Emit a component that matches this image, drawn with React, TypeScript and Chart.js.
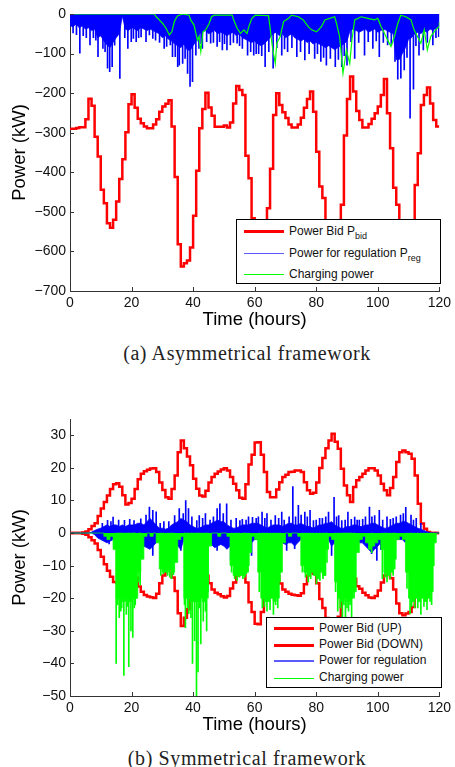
import React, { useEffect, useRef } from 'react';
import { Chart, registerables } from 'chart.js';

Chart.register(...registerables);

// ---------- shared ----------
const xTicks = [0, 20, 40, 60, 80, 100, 120];
const topYTicks = [-700, -600, -500, -400, -300, -200, -100, 0];
const botYTicks = [-50, -40, -30, -20, -10, 0, 10, 20, 30];

// ---------- (a) Asymmetrical framework ----------
// hourly power bid (value holds from hour i to i+1)
const topBid = [
  -290, -290, -288, -286, -286, -266, -214, -232, -310, -360,
  -444, -478, -529, -540, -520, -474, -417, -367, -299, -228,
  -203, -237, -265, -276, -284, -289, -289, -279, -266, -247,
  -234, -227, -218, -284, -412, -582, -638, -630, -623, -590,
  -510, -396, -289, -240, -199, -236, -257, -285, -285, -285,
  -282, -287, -274, -226, -182, -192, -205, -358, -415, -516,
  -570, -610, -620, -590, -491, -391, -255, -200, -230, -248,
  -263, -279, -287, -287, -279, -262, -237, -215, -196, -247,
  -348, -436, -465, -540, -590, -620, -600, -560, -482, -307,
  -215, -158, -196, -245, -268, -287, -287, -278, -265, -251,
  -234, -205, -164, -251, -339, -439, -482, -540, -590, -610,
  -580, -530, -432, -352, -230, -205, -186, -226, -268, -284,
];
// regulation power: dense body (hourly) + individual spikes
const topRegBase = [
  -30, -32, -25, -35, -30, -38, -35, -42, -38,
  -60, -55, -68, -78, -85, -72, -60, -50,
  -5,
  -38, -42, -34, -38, -42, -34, -38, -42, -38, -42,
  -46, -50, -60, -55, -64, -68, -76,
  -80, -85, -76, -90, -92, -80, -68,
  -50, -46, -42, -50, -46, -42, -50, -46, -50,
  -55, -50, -46, -55, -50, -60, -64, -68, -72, -68, -76,
  -80, -76, -68,
  -60, -50, -46, -55, -50, -60, -55, -50, -60, -64,
  -68, -64, -72, -68, -76, -72, -76, -80, -85,
  -80, -85, -90, -85, -80, -76, -68,
  -42, -38, -42, -46, -42, -38, -46, -42, -38, -46, -42, -38, -42, -46, -50,
  -115, -115, -100, -85,
  -64, -60, -50, -46, -50, -42, -46, -38, -42, -34, -38,
];
const topRegSpikeT = [
  3.2, 4.3, 6.5, 7.6, 9.1, 10.7, 12.2, 12.9, 13.7, 14.5,
  15.3, 16.2, 18.8, 19.9, 21.5, 23.1, 24.7, 25.8, 26.9, 30.6,
  32.6, 33.3, 34.2, 35.0, 35.5, 36.6, 38.2, 39.0, 39.8, 40.9,
  41.9, 43.0, 45.7, 47.8, 49.5, 51.0, 52.1, 54.3, 56.0, 57.7,
  59.7, 61.3, 63.4, 66.0, 68.8, 70.7, 73.7, 76.3, 79.5, 81.5,
  83.3, 86.2, 88.3, 90.0, 92.5, 95.7, 98.4, 100.5, 103.2, 106.5,
  107.5, 108.6, 110.5, 111.6, 113.4, 114.8, 117.9, 119.8,
  1.0, 2.1, 5.3, 8.4, 11.4, 17.8, 20.6, 22.3, 27.8, 29.1,
  31.4, 37.4, 42.6, 44.4, 46.6, 48.6, 50.2, 53.1, 55.1, 58.7,
  60.5, 62.3, 64.6, 67.2, 69.7, 72.1, 74.9, 77.7, 80.4, 82.4,
  84.6, 87.2, 89.1, 91.3, 93.8, 96.9, 99.5, 101.8, 104.4, 105.6,
  109.5, 112.4, 116.1, 118.9,
];
const topRegSpikeV = [
  -99, -55, -78, -60, -108, -87, -137, -146, -133, -79,
  -54, -163, -87, -70, -70, -58, -70, -53, -62, -87,
  -78, -108, -108, -133, -129, -125, -150, -183, -171, -104,
  -87, -87, -74, -82, -91, -91, -78, -74, -87, -104,
  -104, -100, -133, -137, -104, -95, -108, -116, -112, -120,
  -129, -133, -133, -129, -112, -104, -87, -108, -78, -165,
  -162, -141, -263, -190, -104, -91, -78, -57,
  -48, -52, -60, -66, -95, -60, -62, -60, -66, -72,
  -82, -112, -75, -70, -72, -70, -75, -72, -80, -95,
  -100, -105, -95, -85, -88, -85, -95, -100, -100, -110,
  -112, -115, -105, -70, -72, -70, -68, -72, -80, -120,
  -110, -80, -72, -60,
];
const topChargeT = [
  0, 27.4, 28.0, 29.0, 30.1, 31.2, 32.3, 33.1, 33.9, 34.9,
  36.6, 38.7, 39.2, 40.3, 41.4, 41.9, 42.5, 43.2, 44.1, 45.2,
  46.0, 46.8, 52.7, 53.2, 54.3, 55.4, 56.5, 57.5, 58.1, 59.1,
  60.2, 64.5, 65.1, 65.6, 66.1, 66.7, 67.2, 68.3, 69.4, 71.0,
  72.0, 74.2, 75.8, 77.4, 78.5, 80.1, 81.7, 82.8, 86.0, 86.6,
  87.6, 88.7, 89.8, 90.9, 91.6, 92.5, 94.6, 96.8, 98.9, 100.0,
  101.1, 102.2, 103.2, 104.3, 105.4, 106.5, 107.5, 109.1, 110.8, 111.8,
  112.9, 114.0, 115.1, 116.1, 117.2, 118.8, 119.9, 120,
];
const topChargeV = [
  0, 0, -7, -15, -24, -36, -53, -45, -19, -5,
  0, -3, -15, -28, -66, -57, -95, -45, -40, -24,
  -7, -3, -3, -15, -36, -49, -40, -49, -32, -11,
  -3, -4, -40, -74, -99, -125, -74, -57, -19, -11,
  -3, -7, -15, -32, -40, -45, -32, -15, -7, -24,
  -57, -150, -91, -125, -66, -15, -7, -11, -15, -11,
  -32, -49, -66, -82, -57, -24, -3, -7, -15, -40,
  -57, -74, -40, -91, -57, -40, -32, -20,
];

// ---------- (b) Symmetrical framework ----------
const botBidUp = [
  0, 0, 0, 0, 0.2, 0.5, 1.2, 2.2, 3, 5.2,
  7.5, 9.5, 11.5, 13.5, 15, 15.3, 14.2, 11.6, 8.8, 9.2,
  10.5, 13.5, 16.5, 18.2, 19, 19.4, 19.8, 19.9, 18.7, 15.5,
  13.2, 11, 10.5, 13.5, 17.7, 24.8, 28.4, 26, 23.5, 20.8,
  16.7, 13.6, 11.5, 11.2, 13, 15.5, 17.2, 18.2, 18.9, 19.5,
  19.9, 19.2, 17.2, 15.1, 13.1, 10.8, 10.5, 15, 21, 24,
  27.8, 27.9, 24, 18.7, 12.6, 11, 11, 13.4, 15.6, 17.2,
  17.9, 18.7, 18.8, 19.2, 19.2, 18.7, 15.6, 13.1, 12.1, 12.4,
  15.5, 20, 23, 26, 28.4, 30.5, 28, 25.9, 19.7, 14.6,
  11.6, 9.5, 14.1, 16.2, 17.2, 18.2, 19.2, 19.9, 19.9, 19.2,
  17.7, 15.1, 13.1, 11.6, 13.8, 17.2, 21.8, 24.8, 25.3, 24.8,
  24.3, 22.8, 17.7, 9, 2.9, 1.3, 0.3, 0, 0, 0,
];
const botBidDown = [
  0, 0, 0, 0, -0.2, -0.5, -1.3, -2.2, -3.2, -5.2,
  -7.3, -9.6, -11.6, -13.4, -15, -15.2, -14, -11.4, -9, -9.4,
  -10.6, -13.6, -16.4, -18, -19, -19.5, -19.7, -19.9, -18.6, -15.4,
  -13, -10.8, -10.4, -13.6, -17.8, -24.6, -28.5, -26, -23.4, -20.6,
  -16.8, -13.5, -11.6, -11.2, -13.1, -15.4, -17.3, -18.3, -18.8, -19.4,
  -19.8, -19.3, -17, -15.2, -13, -10.8, -10.4, -15.2, -21.2, -24.2,
  -27.8, -28, -24.2, -18.6, -12.8, -11, -11.1, -13.2, -15.5, -17.3,
  -18, -18.6, -18.9, -19.1, -19.2, -18.5, -15.7, -13, -12, -12.5,
  -15.4, -20.2, -23, -26.1, -28.3, -30.4, -28, -25.7, -19.6, -14.5,
  -11.7, -9.6, -14, -16.3, -17.1, -18.3, -19.1, -19.8, -19.9, -19.3,
  -17.6, -15.2, -13, -11.5, -13.9, -17.3, -21.6, -24.6, -25.2, -24.7,
  -24.2, -22.7, -17.6, -9.2, -3, -1.3, -0.3, 0, 0, 0,
];
const botRegPos = [
  0, 0, 0, 0, 0, 0, 0, 0.3, 0.8, 1.2,
  1.5, 2, 2.5, 2, 2.5, 2.5, 2, 2.5, 2, 2.5,
  2.5, 2.5, 3, 3, 2.5, 3.5, 4.5, 3.5, 2.5, 1.5,
  1.5, 1.2, 1.5, 2.5, 3, 3.5, 4.5, 4, 3.5, 2.5,
  2, 1.5, 1.5, 2, 2.5, 2.5, 3, 3.5, 4, 3.5,
  3.5, 2.5, 2, 1.5, 1.5, 2, 2.5, 2.5, 2.5, 3,
  3, 3, 2.5, 2, 1.5, 2, 2.5, 2.5, 2.5, 2,
  2.5, 3, 3, 2.5, 2.5, 3, 2.5, 2, 2, 1.5,
  2, 2.5, 2.5, 3, 3, 3.5, 2.5, 2, 1.5, 1.5,
  2, 2, 2.5, 2.5, 2, 2, 2.5, 2.5, 3, 3,
  2.5, 2, 1.5, 1.5, 2, 2.5, 3, 3, 3.5, 3.5,
  3, 2.5, 2, 1.5, 1.2, 0.8, 0.4, 0.2, 0, 0,
  0,
];
const botRegNeg = [
  0, 0, 0, 0, 0, 0, 0, 0, -0.5, -1.5,
  -2, -2.5, -3, -2.5, -2, -2, -2, -2, -2, -2,
  -2, -2, -2, -3, -4, -4.5, -5, -4, -3, -2,
  -2, -2, -2, -2, -2, -4, -5, -2, -2, -2,
  -2, -2, -2, -2, -2, -3, -3.5, -4.5, -4, -3.5,
  -4, -5, -4, -2, -2, -2, -2, -2, -2, -3,
  -2, -2, -2, -2, -2, -2, -2, -2, -2, -3,
  -3.5, -3, -3, -4, -3, -2, -2, -2, -2, -2,
  -2, -2, -2, -2, -2, -4, -3, -2, -2, -2,
  -2, -2, -2, -2, -3, -3, -4, -5, -6, -5,
  -4, -3, -2, -2, -2, -2, -2, -2, -2, -3,
  -2, -2, -2, -2, -2, -2, -2, -1, 0, 0,
  0,
];
const botRegSpikeT = [
  12.2, 14.0, 17.7, 23.0, 24.7, 25.8, 26.9, 28.0, 30.5, 34.0,
  35.5, 37.6, 38.5, 42.0, 44.0, 45.5, 47.8, 48.7, 50.9, 54.0,
  56.0, 58.0, 60.5, 62.4, 64.0, 66.7, 68.8, 72.4, 74.2, 76.3,
  78.0, 80.0, 82.0, 84.0, 85.8, 87.3, 90.3, 92.5, 94.0, 96.0,
  97.3, 99.0, 100.5, 103.0, 105.0, 106.0, 109.1, 110.8, 112.5, 114.0,
  10.5, 13.3, 15.8, 19.4, 20.8, 29.3, 32.1, 36.8, 39.6, 41.2,
  43.1, 46.6, 49.8, 52.3, 55.2, 57.2, 59.3, 61.2, 63.3, 65.3,
  67.8, 69.6, 71.2, 73.3, 75.1, 77.1, 79.1, 81.1, 83.1, 86.6,
  88.3, 89.4, 91.4, 93.3, 95.1, 98.1, 101.6, 104.1, 107.4, 108.3,
  111.6,
  12.7, 21.0, 22.7, 26.9, 36.0, 38.5, 47.8, 52.2, 59.0, 70.4,
  73.0, 85.0, 98.0, 99.7, 101.0,
];
const botRegSpikeV = [
  3.9, 4.9, 3.9, 4.4, 5.5, 8, 7, 6.5, 3.5, 5.4,
  7.5, 10, 7.5, 5.4, 6, 4, 7.5, 9, 9, 4.5,
  4.2, 5, 4.5, 6.4, 6, 5.4, 6.4, 14.3, 8.5, 6.4,
  7, 4, 4.5, 6.4, 11, 5.4, 6.4, 4.9, 4, 5,
  8, 5.4, 7, 5, 4.5, 5, 7.9, 5.5, 4.5, 3,
  3, 3.5, 4, 4.2, 3.8, 3, 3.5, 6, 5, 3.8,
  4.5, 5, 6, 4, 3.8, 4, 4.8, 5, 4.5, 4,
  4.5, 4, 5, 5, 5.5, 5, 3.8, 4.5, 5, 5,
  3.8, 4, 4.2, 4, 4.2, 5, 4, 4.2, 5.5, 6,
  4,
  -3.3, -6.3, -6.3, -6.9, -5.3, -6, -5.3, -8.4, -6.9, -5.3,
  -4.8, -6.9, -6.3, -8.4, -5,
];
const botChargeBase = [
  0, 0, 0, 0, 0, 0, 0, 0, 0, 0,
  0, -1, -2, -1, -5, -20, -20, -21, -20, -21,
  -20, -20, -12, -8, -1, 0, -1, 0, -3, -11,
  -12, -12, -11, -12, -9, -2, -1, -20, -20, -21,
  -21, -21, -20, -21, -18, -4, 0, 0, -1, 0,
  0, -1, -10, -13, -13, -13, -13, -12, -6, -1,
  -2, -12, -20, -21, -21, -20, -21, -20, -12, -3,
  0, -1, 0, 0, -1, -10, -12, -13, -12, -13,
  -14, -12, -13, -5, -1, -2, -15, -20, -21, -20,
  -21, -20, -18, -6, -2, -1, -3, -5, -4, -3,
  -2, -5, -12, -13, -12, -8, -2, -1, -2, -12,
  -20, -21, -20, -21, -20, -21, -20, -18, -3, 0,
  0,
];
const botChargeSpikeT = [
  15.0, 16.0, 16.5, 17.5, 18.3, 19.1, 19.8, 20.4, 21.2,
  31.7, 33.0,
  37.5, 38.6, 39.8, 40.5, 41.1, 41.6, 42.5, 43.3, 44.4,
  53.5, 55.0, 57.3,
  62.5, 64.0, 66.1, 67.5,
  77.4, 79.0, 81.2, 83.0,
  87.0, 88.5, 89.5, 90.5, 91.5,
  98.0, 101.5, 103.0, 105.0,
  110.5, 112.0, 114.0, 116.0, 117.5,
  15.5, 16.8, 18.8, 20.9, 22.4, 22.8,
  29.5, 30.3, 32.4, 33.6,
  37.2, 38.2, 39.3, 42.0, 44.0, 44.8,
  52.5, 54.3, 56.2, 56.8, 58.1,
  61.5, 63.2, 65.0, 66.8, 68.2,
  75.5, 76.5, 78.2, 80.1, 82.2, 83.5,
  86.3, 87.8, 89.0, 90.0, 91.0, 92.3,
  102.3, 104.0, 105.5,
  109.5, 111.0, 113.0, 115.0, 117.0, 118.2,
];
const botChargeSpikeV = [
  -40, -26, -24, -43.7, -25, -41, -30, -32, -22,
  -13, -14,
  -29, -24.7, -40, -33, -50, -42.6, -34, -27, -30,
  -14, -13.5, -12.5,
  -23, -24, -25, -23,
  -15, -12, -14.5, -13,
  -24, -27, -25.8, -24, -26,
  -6, -14, -15, -13,
  -24.8, -23, -25, -23.5, -22,
  -22, -23, -22.5, -23, -15, -16,
  -13, -12.5, -13.5, -12.8,
  -22, -23, -26, -23, -24, -20,
  -12, -14.5, -14, -13.5, -10,
  -18, -22.5, -23.5, -22, -15,
  -12, -13.5, -14, -15.5, -14, -9,
  -18, -23, -22, -23, -22, -20,
  -13.5, -14, -11,
  -17, -22.5, -23, -22.5, -21, -10,
];

// ---------- helpers ----------
const RED = '#ff0000';
const BLUE = '#0000ff';
const GREEN = '#00ff00';
const SANS = '"Liberation Sans", Arial, Helvetica, sans-serif';
const SERIF = '"Liberation Serif", "Times New Roman", serif';
const AXIS = '#333333';

const hourly = (vals: number[]) => vals.map((v, i) => ({ x: i, y: v }));
const stepped = (vals: number[]) =>
  vals.map((v, i) => ({ x: i, y: v })).concat([{ x: vals.length, y: vals[vals.length - 1] }]);
const pairs = (ts: number[], vs: number[]) => ts.map((t, i) => ({ x: t, y: vs[i] }));

const fmt = (v: number) => (v < 0 ? '\u2212' + Math.abs(v) : String(v));

const inwardTicks = {
  id: 'inwardTicks',
  afterDatasetsDraw(chart: any) {
    const { ctx, chartArea, scales } = chart;
    ctx.save();
    ctx.strokeStyle = AXIS;
    ctx.lineWidth = 1;
    scales.x.ticks.forEach((t: any) => {
      const px = Math.round(scales.x.getPixelForValue(t.value)) + 0.5;
      ctx.beginPath();
      ctx.moveTo(px, chartArea.bottom);
      ctx.lineTo(px, chartArea.bottom - 4);
      ctx.stroke();
    });
    scales.y.ticks.forEach((t: any) => {
      const py = Math.round(scales.y.getPixelForValue(t.value)) + 0.5;
      ctx.beginPath();
      ctx.moveTo(chartArea.left, py);
      ctx.lineTo(chartArea.left + 4, py);
      ctx.stroke();
    });
    ctx.restore();
  },
};

function makeOptions(yMin: number, yMax: number, yTicks: number[]) {
  return {
    animation: false,
    responsive: false,
    maintainAspectRatio: false,
    layout: { padding: { top: 14, right: 13, left: 0, bottom: 0 } },
    plugins: { legend: { display: false }, tooltip: { enabled: false } },
    elements: { point: { radius: 0 }, line: { tension: 0 } },
    scales: {
      x: {
        type: 'linear',
        min: 0,
        max: 120,
        offset: false,
        grid: { display: false, drawTicks: false, offset: false },
        border: { display: true, color: AXIS, width: 1 },
        ticks: { font: { family: SANS, size: 14 }, color: '#111', padding: 4, maxRotation: 0, autoSkip: false, callback: (v: number) => fmt(v) },
        afterBuildTicks: (s: any) => { s.ticks = xTicks.map((v) => ({ value: v })); },
        afterFit: (s: any) => { s.height = 49; },
        title: { display: true, text: 'Time (hours)', font: { family: SANS, size: 18.5 }, color: '#000', padding: { top: 0, bottom: 9 } },
      },
      y: {
        type: 'linear',
        min: yMin,
        max: yMax,
        grid: { display: false, drawTicks: false },
        border: { display: true, color: AXIS, width: 1 },
        ticks: { font: { family: SANS, size: 14 }, color: '#111', padding: 4, autoSkip: false, callback: (v: number) => fmt(v) },
        afterBuildTicks: (s: any) => { s.ticks = yTicks.map((v) => ({ value: v })); },
        afterFit: (s: any) => { s.width = 70; },
        title: { display: true, text: 'Power (kW)', font: { family: SANS, size: 18.5 }, color: '#000', padding: { top: 9, bottom: 0 } },
      },
    },
  } as any;
}

function TopChart() {
  const ref = useRef<HTMLCanvasElement>(null);
  useEffect(() => {
    const chart = new Chart(ref.current as HTMLCanvasElement, {
      type: 'line',
      data: {
        datasets: [
          { type: 'line', label: 'Charging power', data: pairs(topChargeT, topChargeV), borderColor: GREEN, borderWidth: 1.2, fill: false, order: 0 },
          { type: 'bar', label: 'reg spikes', data: pairs(topRegSpikeT, topRegSpikeV), backgroundColor: BLUE, borderWidth: 0, barThickness: 1, grouped: false, order: 1 },
          { type: 'line', label: 'Power for regulation', data: hourly(topRegBase), borderColor: BLUE, backgroundColor: BLUE, borderWidth: 0.8, fill: 'origin', order: 2 },
          { type: 'line', label: 'Power Bid', data: stepped(topBid), borderColor: RED, borderWidth: 2.5, stepped: 'before', fill: false, order: 3 },
        ],
      } as any,
      options: makeOptions(-700, 0, topYTicks),
      plugins: [inwardTicks],
    });
    return () => chart.destroy();
  }, []);
  return <canvas ref={ref} width={455} height={340} style={{ position: 'absolute', left: 0, top: 0, width: 455, height: 340 }} />;
}

function BottomChart() {
  const ref = useRef<HTMLCanvasElement>(null);
  useEffect(() => {
    const chart = new Chart(ref.current as HTMLCanvasElement, {
      type: 'line',
      data: {
        datasets: [
          { type: 'bar', label: 'charge spikes', data: pairs(botChargeSpikeT, botChargeSpikeV), backgroundColor: GREEN, borderWidth: 0, barThickness: 1, grouped: false, order: 0 },
          { type: 'line', label: 'Charging power', data: stepped(botChargeBase.slice(0, 120)), borderColor: GREEN, backgroundColor: GREEN, borderWidth: 0.8, stepped: 'before', fill: 'origin', order: 1 },
          { type: 'bar', label: 'reg spikes', data: pairs(botRegSpikeT, botRegSpikeV), backgroundColor: BLUE, borderWidth: 0, barThickness: 1, grouped: false, order: 2 },
          { type: 'line', label: 'Power for regulation (+)', data: hourly(botRegPos), borderColor: BLUE, backgroundColor: BLUE, borderWidth: 0.8, fill: 'origin', order: 3 },
          { type: 'line', label: 'Power for regulation (-)', data: hourly(botRegNeg), borderColor: BLUE, backgroundColor: BLUE, borderWidth: 0.8, fill: 'origin', order: 3 },
          { type: 'line', label: 'Power Bid (UP)', data: stepped(botBidUp), borderColor: RED, borderWidth: 2.5, stepped: 'before', fill: false, order: 4 },
          { type: 'line', label: 'Power Bid (DOWN)', data: stepped(botBidDown), borderColor: RED, borderWidth: 2.5, stepped: 'before', fill: false, order: 4 },
        ],
      } as any,
      options: makeOptions(-50, 35, botYTicks),
      plugins: [inwardTicks],
    });
    return () => chart.destroy();
  }, []);
  return <canvas ref={ref} width={455} height={340} style={{ position: 'absolute', left: 0, top: 405, width: 455, height: 340 }} />;
}

type Row = { label: React.ReactNode; color: string; lw: number; cy: number };

function Legend({ left, top, width, height, rows }: { left: number; top: number; width: number; height: number; rows: Row[] }) {
  return (
    <div style={{ position: 'absolute', left, top, width, height, boxSizing: 'border-box', border: '1.2px solid #000', background: '#fff' }}>
      {rows.map((r, i) => (
        <React.Fragment key={i}>
          <div style={{ position: 'absolute', left: 7, width: 40, top: r.cy - r.lw / 2 - 1, height: r.lw, background: r.color }} />
          <div style={{ position: 'absolute', left: 52, top: r.cy - 10, lineHeight: '16px', fontSize: 12, fontFamily: SANS, color: '#111', whiteSpace: 'nowrap' }}>
            {r.label}
          </div>
        </React.Fragment>
      ))}
    </div>
  );
}

const subStyle: React.CSSProperties = { fontSize: 9, verticalAlign: '-4px', lineHeight: 0 };

export default function App() {
  return (
    <div style={{ position: 'absolute', left: 0, top: 0, width: 455, height: 767, background: '#fff', overflow: 'hidden' }}>
      <TopChart />
      <BottomChart />
      <Legend
        left={236}
        top={219}
        width={205}
        height={65}
        rows={[
          { label: <span>Power Bid P<sub style={subStyle}>bid</sub></span>, color: RED, lw: 3, cy: 12.5 },
          { label: <span>Power for regulation P<sub style={subStyle}>reg</sub></span>, color: 'rgb(90,90,255)', lw: 1.5, cy: 34.5 },
          { label: 'Charging power', color: GREEN, lw: 1, cy: 55.5 },
        ]}
      />
      <Legend
        left={266}
        top={617}
        width={176}
        height={71}
        rows={[
          { label: 'Power Bid (UP)', color: RED, lw: 3, cy: 11.5 },
          { label: 'Power Bid (DOWN)', color: RED, lw: 3, cy: 28 },
          { label: 'Power for regulation', color: 'rgb(90,90,255)', lw: 1.5, cy: 44 },
          { label: 'Charging power', color: GREEN, lw: 1, cy: 61 },
        ]}
      />
      <div style={{ position: 'absolute', left: 47, width: 400, top: 341, height: 24, lineHeight: '24px', textAlign: 'center', fontFamily: SERIF, fontSize: 20, letterSpacing: 0.6, color: '#222' }}>
        (a) Asymmetrical framework
      </div>
      <div style={{ position: 'absolute', left: 47, width: 400, top: 746, height: 24, lineHeight: '24px', textAlign: 'center', fontFamily: SERIF, fontSize: 20, letterSpacing: 0.6, color: '#222' }}>
        (b) Symmetrical framework
      </div>
    </div>
  );
}
